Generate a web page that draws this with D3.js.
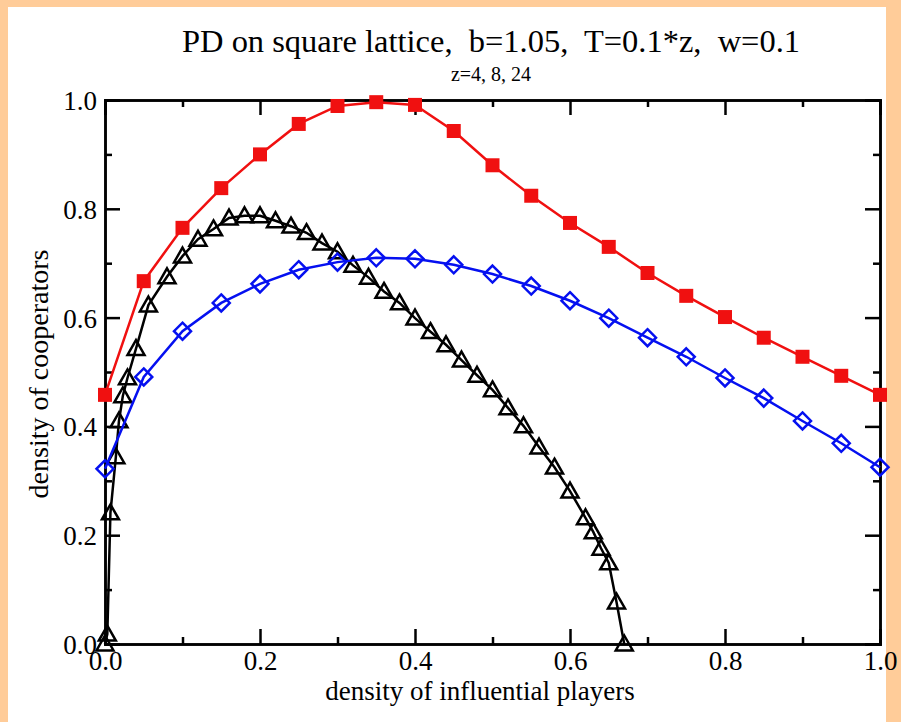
<!DOCTYPE html>
<html>
<head>
<meta charset="utf-8">
<script src="https://cdn.jsdelivr.net/npm/d3@7"></script>
<style>
  html, body { margin: 0; padding: 0; background: #FFCC99; }
  svg { display: block; }
  text { font-family: "Liberation Serif", "Times New Roman", serif; fill: #000; }
</style>
</head>
<body>
<svg id="chart" width="901" height="722"></svg>
<script>
// z = 4 : red filled squares
const redX = [0, 0.05, 0.10, 0.15, 0.20, 0.25, 0.30, 0.35, 0.40, 0.45, 0.50,
              0.55, 0.60, 0.65, 0.70, 0.75, 0.80, 0.85, 0.90, 0.95, 1.00];
const redY = [0.458, 0.667, 0.765, 0.838, 0.900, 0.956, 0.989, 0.996, 0.991, 0.943, 0.880,
              0.824, 0.774, 0.730, 0.682, 0.640, 0.601, 0.563, 0.528, 0.493, 0.458];

// z = 8 : blue open diamonds
const blueX = redX;
const blueY = [0.322, 0.491, 0.575, 0.627, 0.662, 0.688, 0.702, 0.710, 0.708, 0.697, 0.680,
               0.658, 0.631, 0.599, 0.563, 0.528, 0.489, 0.452, 0.410, 0.369, 0.325];

// z = 24 : black open triangles
const blackX = [0, 0.003, 0.007, 0.014, 0.018, 0.023, 0.029, 0.04, 0.056, 0.08, 0.10,
                0.12, 0.14, 0.16, 0.18, 0.20, 0.22, 0.24, 0.26, 0.28, 0.30,
                0.32, 0.34, 0.36, 0.38, 0.40, 0.42, 0.44, 0.46, 0.48, 0.50,
                0.52, 0.54, 0.56, 0.58, 0.60, 0.62, 0.63, 0.64, 0.65, 0.66, 0.67];
const blackY = [0.0, 0.018, 0.241, 0.344, 0.410, 0.456, 0.489, 0.543, 0.623, 0.675, 0.713,
                0.744, 0.763, 0.783, 0.787, 0.787, 0.778, 0.768, 0.756, 0.737, 0.721,
                0.696, 0.674, 0.648, 0.627, 0.599, 0.574, 0.550, 0.522, 0.494, 0.467,
                0.434, 0.401, 0.362, 0.325, 0.281, 0.232, 0.206, 0.176, 0.149, 0.077, 0.0];

const majorTicks = [0, 0.2, 0.4, 0.6, 0.8, 1.0];
const minorTicks = [0.1, 0.3, 0.5, 0.7, 0.9];

const titleText = "PD on square lattice,  b=1.05,  T=0.1*z,  w=0.1";
const subtitleText = "z=4, 8, 24";
const xTitle = "density of influential players";
const yTitle = "density of cooperators";

const svg = d3.select("#chart");

// white page inside the peach border
svg.append("rect").attr("x", 8).attr("y", 7).attr("width", 878).attr("height", 715).attr("fill", "#fff");

const plotL = 105, plotR = 880, plotT = 100, plotB = 644;
const x = d3.scaleLinear().domain([0, 1]).range([plotL, plotR]);
const y = d3.scaleLinear().domain([0, 1]).range([plotB, plotT]);

const fmt = d3.format(".1f");
const labelFont = '"Liberation Serif", "Times New Roman", serif';

// axes with inward ticks on all four sides
function addAxis(axisFn, scale, transform, labels) {
  const gMaj = svg.append("g").attr("transform", transform)
    .call(axisFn(scale).tickValues(majorTicks).tickSize(-15).tickPadding(0)
      .tickFormat(labels ? fmt : ""));
  const gMin = svg.append("g").attr("transform", transform)
    .call(axisFn(scale).tickValues(minorTicks).tickSize(-7).tickFormat(""));
  [gMaj, gMin].forEach(g => {
    g.select(".domain").attr("stroke", "#000").attr("stroke-width", 2.5);
    g.selectAll(".tick line").attr("stroke", "#000").attr("stroke-width", 2.5);
  });
  gMaj.selectAll(".tick text").style("font-family", labelFont).style("font-size", "27px");
  return gMaj;
}
const gx = addAxis(d3.axisBottom, x, `translate(0,${plotB})`, true);
gx.selectAll(".tick text").attr("y", 26).attr("dy", 0);
const gy = addAxis(d3.axisLeft, y, `translate(${plotL},0)`, true);
gy.selectAll(".tick text").attr("x", -8).attr("dy", "0.35em");
addAxis(d3.axisTop, x, `translate(0,${plotT})`, false);
addAxis(d3.axisRight, y, `translate(${plotR},0)`, false);

// series
const line = d3.line().x(d => x(d[0])).y(d => y(d[1]));
const blackPts = blackX.map((v, i) => [v, blackY[i]]);
const bluePts = blueX.map((v, i) => [v, blueY[i]]);
const redPts = redX.map((v, i) => [v, redY[i]]);

function drawSeries(pts, color, shape) {
  svg.append("path").datum(pts).attr("d", line)
    .attr("fill", "none").attr("stroke", color).attr("stroke-width", 2.5);
  const g = svg.append("g");
  if (shape === "square") {
    g.selectAll("rect").data(pts).join("rect")
      .attr("x", d => x(d[0]) - 7).attr("y", d => y(d[1]) - 7)
      .attr("width", 14).attr("height", 14).attr("fill", color);
  } else if (shape === "diamond") {
    const s = 8.5;
    g.selectAll("path").data(pts).join("path")
      .attr("d", d => `M${x(d[0])},${y(d[1]) - s}L${x(d[0]) + s},${y(d[1])}L${x(d[0])},${y(d[1]) + s}L${x(d[0]) - s},${y(d[1])}Z`)
      .attr("fill", "none").attr("stroke", color).attr("stroke-width", 2.5);
  } else {
    const s = 8.5;
    g.selectAll("path").data(pts).join("path")
      .attr("d", d => `M${x(d[0])},${y(d[1]) - s}L${x(d[0]) + s},${y(d[1]) + s * 0.75}L${x(d[0]) - s},${y(d[1]) + s * 0.75}Z`)
      .attr("fill", "none").attr("stroke", color).attr("stroke-width", 2.5);
  }
}
drawSeries(blackPts, "#000", "triangle");
drawSeries(bluePts, "#0510f0", "diamond");
drawSeries(redPts, "#f01010", "square");

// titles
svg.append("text").attr("x", 491).attr("y", 52).attr("text-anchor", "middle")
  .style("font-size", "32px").style("white-space", "pre")
  .attr("textLength", 618).attr("lengthAdjust", "spacingAndGlyphs").text(titleText);
svg.append("text").attr("x", 491).attr("y", 81).attr("text-anchor", "middle")
  .style("font-size", "20px").text(subtitleText);
svg.append("text").attr("x", 480).attr("y", 700).attr("text-anchor", "middle")
  .style("font-size", "27px").text(xTitle);
svg.append("text").attr("transform", "translate(48,374) rotate(-90)").attr("text-anchor", "middle")
  .style("font-size", "28px").text(yTitle);
</script>
</body>
</html>
